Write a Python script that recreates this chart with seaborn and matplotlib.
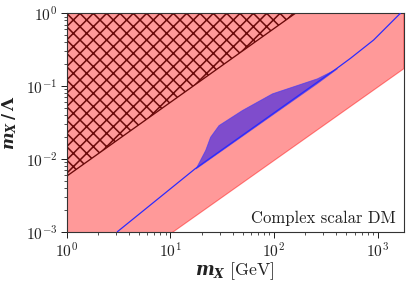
import matplotlib
matplotlib.use("Agg")
import matplotlib.pyplot as plt
import numpy as np
import pandas as pd
import seaborn as sns

# ---- data ----
# lower edge of the pink band
pink_lo_x = [1.0, 10.7, 1800.0]
pink_lo_y = [9.3e-5, 1.0e-3, 0.174]
# lower edge of hatched (excluded) region
hatch_x = [1.0, 161.0]
hatch_y = [5.8e-3, 1.0]
# blue line
blue_x = [3.08, 17.5, 406.0, 548.0, 917.0, 1660.0]
blue_y = [1.0e-3, 7.4e-3, 0.176, 0.241, 0.43, 1.0]
# purple band
band_x = [17.5, 21.7, 24.2, 29.2, 49.1, 95.7, 260.0, 406.0]
band_lo = [7.4e-3, 9.18e-3, 1.024e-2, 1.236e-2, 2.08e-2, 4.06e-2, 0.1102, 0.176]
band_hi = [7.4e-3, 0.0133, 0.0202, 0.0292, 0.047, 0.0796, 0.128, 0.176]

sns.set_theme(style="ticks")
plt.rcParams.update({
    "font.family": ["cmr10", "DejaVu Serif"],
    "mathtext.fontset": "custom",
    "mathtext.rm": "cmr10",
    "mathtext.it": "DejaVu Serif:italic:bold",
    "mathtext.bf": "DejaVu Serif:bold",
    "axes.formatter.use_mathtext": True,
    "hatch.linewidth": 1.4,
    "xtick.direction": "out",
    "ytick.direction": "out",
})

dpi = 80
fig, ax = plt.subplots(figsize=(415 / dpi, 283 / dpi), dpi=dpi)
fig.subplots_adjust(left=0.1607, right=0.9735, top=0.953, bottom=0.181)
ax.set_xscale("log")
ax.set_yscale("log")

ax.fill_between(pink_lo_x, pink_lo_y, 1.0, facecolor=(1, 0, 0, 0.4),
                edgecolor=(1, 0, 0, 0.45), lw=1.0, zorder=1)
ax.fill_between(hatch_x, hatch_y, 1.0, facecolor="none", edgecolor="#6b0a0a",
                hatch="xx", lw=1.2, zorder=2)
ax.fill_between(band_x, band_lo, band_hi, facecolor=(0, 0, 1, 0.5),
                edgecolor=(0.2, 0.2, 1, 0.6), lw=0.8, zorder=3)
sns.lineplot(x=blue_x, y=blue_y, color="#2a2aff", lw=1.1, ax=ax, zorder=4)

ax.set_xlim(1, 1800)
ax.set_ylim(1e-3, 1)

ax.tick_params(which="both", top=False, right=False, labelsize=14,
               colors="#222222")
ax.tick_params(which="major", length=5, width=0.9)
ax.tick_params(which="minor", length=3, width=0.7)
for s in ax.spines.values():
    s.set_color("#333333")
    s.set_linewidth(1.0)

ax.set_xlabel(r"$m_X$ [GeV]", fontsize=16, color="#222222", labelpad=1)
ax.set_ylabel(r"$m_X\,\mathbf{/}\,\mathbf{\Lambda}$", fontsize=15,
              color="#222222", labelpad=6)
ax.text(0.975, 0.028, "Complex scalar DM", transform=ax.transAxes,
        ha="right", va="bottom", fontsize=15, color="#222222")

fig.savefig("out.png", dpi=dpi)
